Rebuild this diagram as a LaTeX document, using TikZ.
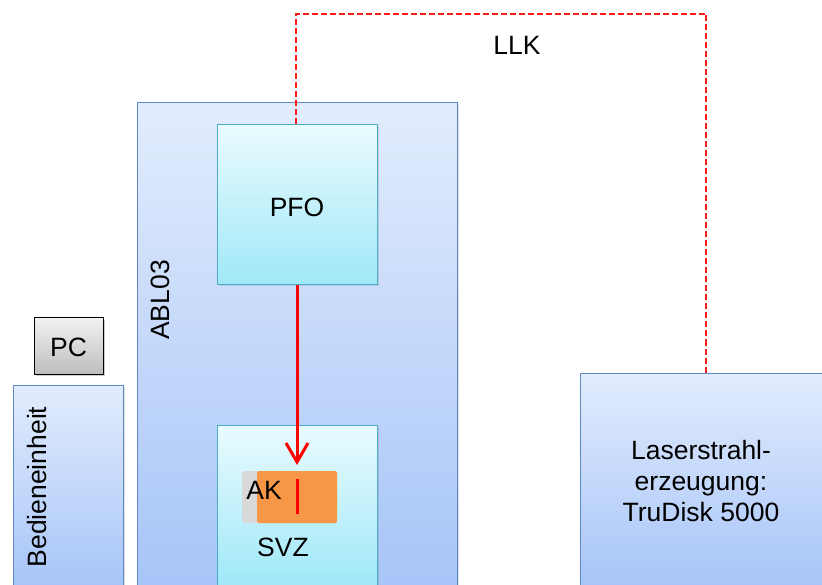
\documentclass[tikz,border=0pt]{standalone}
\usepackage{fontspec}
\setmainfont{Liberation Sans}
\usetikzlibrary{arrows.meta,shadows}
\definecolor{bluetop}{HTML}{E2ECFD}
\definecolor{bluebot}{HTML}{A7C5F8}
\definecolor{blueedge}{HTML}{5F88C6}
\definecolor{cyantop}{HTML}{E9FBFE}
\definecolor{cyanbot}{HTML}{A0E8F8}
\definecolor{cyanedge}{HTML}{4BADC6}
\definecolor{graytop}{HTML}{F2F2F2}
\definecolor{graybot}{HTML}{BDBDBD}
\definecolor{akorange}{HTML}{F79646}
\definecolor{akgray}{HTML}{D9D9D9}
\definecolor{llkred}{HTML}{FF1A1A}
\tikzset{
  bluebox/.style={draw=blueedge, line width=1pt, top color=bluetop, bottom color=bluebot, inner sep=0pt,
    drop shadow={shadow xshift=1.5pt, shadow yshift=-1.5pt, opacity=0.25}},
  cyanbox/.style={draw=cyanedge, line width=1pt, top color=cyantop, bottom color=cyanbot, inner sep=0pt,
    drop shadow={shadow xshift=1.5pt, shadow yshift=-1.5pt, opacity=0.25}},
  pcbox/.style={draw=black, line width=1pt, top color=graytop, bottom color=graybot, inner sep=0pt,
    drop shadow={shadow xshift=2pt, shadow yshift=-2pt, opacity=0.4}},
  lbl/.style={font=\fontsize{26.5}{31}\selectfont, text=black, inner sep=0pt, align=center},
  llkline/.style={draw=llkred, line width=1.8pt, dash pattern=on 6pt off 3pt},
  redarrow/.style={draw=red, line width=3pt, -{Straight Barb[length=19pt,width=22pt,line width=3pt]}},
}
\begin{document}
\begin{tikzpicture}[x=1pt,y=-1pt]
\useasboundingbox (0,0) rectangle (822,585);
% boxes
\node[bluebox, minimum width=320pt, minimum height=482pt] (abl) at (297,344) {};
\node[bluebox, minimum width=110pt, minimum height=200pt] (bed) at (68,485) {};
\node[bluebox, minimum width=242pt, minimum height=212pt] (laser) at (701,479) {};
\node[pcbox, minimum width=69pt, minimum height=56pt] (pc) at (68.5,346) {};
% LLK line
\coordinate (d1) at (706,14);
\coordinate (d2) at (296,14);
\node[cyanbox, minimum width=160pt, minimum height=160pt] (pfo) at (297,205) {};
\draw[llkline] (laser.north -| d1) -- (d1) -- (d2) -- (pfo.north -| d2);
\node[cyanbox, minimum width=160pt, minimum height=160pt] (svz) at (297,505) {};
% AK
\node[fill=akgray, minimum width=50pt, minimum height=52pt, inner sep=0pt, rounded corners=1.5pt] (akg) at (267,497) {};
\node[fill=akorange, minimum width=80pt, minimum height=52pt, inner sep=0pt, rounded corners=1.5pt] (ako) at (297,497) {};
\coordinate (akt) at (297,479);
\coordinate (akb) at (297,514);
\draw[red, line width=3pt] (akt) -- (akb);
% texts
\node[lbl] (pfot) at (297,207) {PFO};
\node[lbl] (pct) at (68.5,347) {PC};
\node[lbl] (akt2) at (264,490) {AK};
\node[lbl] (svzt) at (283,547) {SVZ};
\node[lbl, rotate=90] (ablt) at (160,300) {ABL03};
\node[lbl, rotate=90] (bedt) at (37,487) {Bedieneinheit};
\node[lbl] (lasert) at (701,481) {Laserstrahl-\\erzeugung:\\TruDisk 5000};
\node[lbl] (llkt) at (517,45) {LLK};
% arrow
\coordinate (tip) at (297,465);
\draw[redarrow] (pfo.south) -- (tip);
\end{tikzpicture}
\end{document}
